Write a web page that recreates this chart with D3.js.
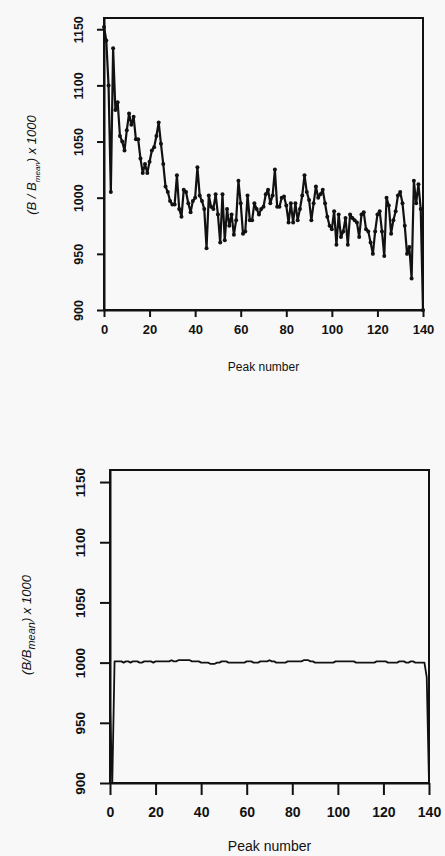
<!DOCTYPE html>
<html>
<head>
<meta charset="utf-8">
<script src="https://cdn.jsdelivr.net/npm/d3@7"></script>
<style>
  html, body { margin: 0; padding: 0; background: #f8f8f8; }
  svg { display: block; }
  text { font-family: "Liberation Sans", Arial, sans-serif; fill: #111; }
</style>
</head>
<body>
<div id="chart"></div>
<script>
// peak numbers along the x axis
var peakNumber = d3.range(0, 141);

// top panel, before correction
var ratioRaw = [
  1152, 1140, 1100, 1005, 1133, 1078, 1085, 1055, 1050, 1042,
  1060, 1075, 1065, 1072, 1052, 1052, 1035, 1022, 1030, 1022,
  1032, 1042, 1045, 1055, 1067, 1048, 1030, 1010, 1005, 997,
  994, 994, 1020, 990, 983, 1007, 1005, 995, 987, 997,
  1000, 1027, 1002, 997, 990, 955, 1002, 992, 990, 1003,
  985, 960, 1003, 962, 990, 975, 985, 967, 980, 1015,
  995, 968, 970, 1002, 980, 980, 995, 990, 985, 990,
  992, 1003, 1007, 995, 1002, 1025, 992, 992, 1000, 1001,
  993, 978, 995, 978, 995, 980, 990, 1002, 1020, 1005,
  998, 980, 995, 1010, 1000, 1003, 1007, 995, 983, 975,
  972, 988, 958, 985, 965, 970, 982, 958, 985, 982,
  980, 978, 965, 985, 987, 972, 970, 960, 950, 970,
  985, 988, 970, 948, 1000, 993, 968, 980, 988, 1002,
  1005, 995, 975, 950, 956, 928, 1015, 995, 1012, 990,
  900
];

// bottom panel, after correction
var ratioCorrected = [
  963, 900, 1001,
  1001, 1001, 1001, 1000, 1001, 1001, 1000, 1001, 1001, 1001,
  1000, 1000, 1001, 1001, 1001, 1001, 1000, 1001, 1001, 1001,
  1001, 1001, 1001, 1001, 1002, 1001, 1001, 1002, 1002, 1002,
  1002, 1002, 1002, 1001, 1001, 1001, 1001, 1000, 1000, 1000,
  1000, 999, 999, 999, 1000, 1000, 1001, 1001, 1001, 1000,
  1000, 1000, 1000, 1000, 1000, 1000, 1000, 1001, 1001, 1001,
  1000, 1000, 1000, 1001, 1001, 1001, 1001, 1002, 1001, 1001,
  1000, 1000, 1000, 1000, 1000, 1001, 1001, 1001, 1001, 1001,
  1001, 1001, 1002, 1002, 1002, 1001, 1001, 1000, 1000, 1000,
  1000, 1000, 1000, 1000, 1000, 1000, 1001, 1001, 1001, 1001,
  1001, 1001, 1001, 1001, 1001, 1000, 1000, 1000, 1000, 1000,
  1000, 1000, 1000, 1000, 1001, 1001, 1001, 1001, 1001, 1000,
  1000, 1000, 1000, 1000, 1001, 1001, 1001, 1000, 1000, 1001,
  1001, 1000, 1000, 1000, 1000,
  1000, 988, 900
];

var xTicks = [0, 20, 40, 60, 80, 100, 120, 140];
var yTicks = [900, 950, 1000, 1050, 1100, 1150];

var svg = d3.select("#chart").append("svg")
  .attr("width", 445)
  .attr("height", 856);

function drawPanel(cfg) {
  var x = d3.scaleLinear().domain([0, 140]).range([cfg.left, cfg.right]);
  var y = d3.scaleLinear().domain([900, 1160]).range([cfg.bottom, cfg.top]);

  var g = svg.append("g");

  // frame
  g.append("rect")
    .attr("x", cfg.left)
    .attr("y", cfg.top)
    .attr("width", cfg.right - cfg.left)
    .attr("height", cfg.bottom - cfg.top)
    .attr("fill", "none")
    .attr("stroke", "#111")
    .attr("stroke-width", 2);

  var xAxis = g.append("g")
    .attr("transform", "translate(0," + cfg.bottom + ")")
    .call(d3.axisBottom(x).tickValues(xTicks).tickFormat(d3.format("d"))
      .tickSize(cfg.xTick).tickPadding(cfg.xPad).tickSizeOuter(0));
  xAxis.select(".domain").attr("stroke", "#111").attr("stroke-width", 2);
  xAxis.selectAll(".tick line").attr("stroke", "#111").attr("stroke-width", 2);
  xAxis.selectAll(".tick text")
    .attr("font-size", cfg.tickFont)
    .attr("font-weight", "bold")
    .attr("fill", "#111");

  var yAxis = g.append("g")
    .attr("transform", "translate(" + cfg.left + ",0)")
    .call(d3.axisLeft(y).tickValues(yTicks).tickFormat(d3.format("d"))
      .tickSize(cfg.yTick).tickSizeOuter(0));
  yAxis.select(".domain").attr("stroke", "#111").attr("stroke-width", 2);
  yAxis.selectAll(".tick line").attr("stroke", "#111").attr("stroke-width", 2);
  yAxis.selectAll(".tick text")
    .attr("transform", "rotate(-90)")
    .attr("x", 0)
    .attr("y", cfg.yLabel)
    .attr("dy", 0)
    .attr("text-anchor", "middle")
    .attr("font-size", cfg.tickFont - 0.5)
    .attr("font-weight", "bold")
    .attr("fill", "#111");

  var line = d3.line()
    .x(function(d, i) { return x(peakNumber[i]); })
    .y(function(d) { return y(d); });

  g.append("path")
    .datum(cfg.values)
    .attr("d", line)
    .attr("fill", "none")
    .attr("stroke", "#111")
    .attr("stroke-width", cfg.lineWidth)
    .attr("stroke-linejoin", "round");

  if (cfg.dots) {
    g.selectAll("circle")
      .data(cfg.values)
      .enter()
      .append("circle")
      .attr("cx", function(d, i) { return x(peakNumber[i]); })
      .attr("cy", function(d) { return y(d); })
      .attr("r", 2)
      .attr("fill", "#111");
  }

  // axis titles
  g.append("text")
    .attr("x", (cfg.left + cfg.right) / 2)
    .attr("y", cfg.xTitle)
    .attr("text-anchor", "middle")
    .attr("font-size", cfg.xTitleFont)
    .text("Peak number");

  var yt = g.append("text")
    .attr("transform", "translate(" + cfg.yTitleX + "," + cfg.yTitleY + ") rotate(-90)")
    .attr("text-anchor", "middle")
    .attr("font-size", 13)
    .attr("font-style", "italic");
  yt.append("tspan").text(cfg.bOpen);
  yt.append("tspan").attr("font-size", cfg.subFont).attr("dy", 4).text("mean");
  yt.append("tspan").attr("dy", -4).text(") x 1000");
}

drawPanel({
  values: ratioRaw, left: 104, right: 423, top: 18, bottom: 310,
  xTick: 7, xPad: 8, yTick: 7, yLabel: -21, tickFont: 13, lineWidth: 2.2, dots: true,
  xTitle: 371, xTitleFont: 12, yTitleX: 36, yTitleY: 165, bOpen: "(B / B", subFont: 8
});

drawPanel({
  values: ratioCorrected, left: 110, right: 429, top: 470, bottom: 783,
  xTick: 12, xPad: 12, yTick: 10, yLabel: -25, tickFont: 14, lineWidth: 1.8, dots: false,
  xTitle: 851, xTitleFont: 14, yTitleX: 31, yTitleY: 625, bOpen: "(B/B", subFont: 11
});
</script>
</body>
</html>
